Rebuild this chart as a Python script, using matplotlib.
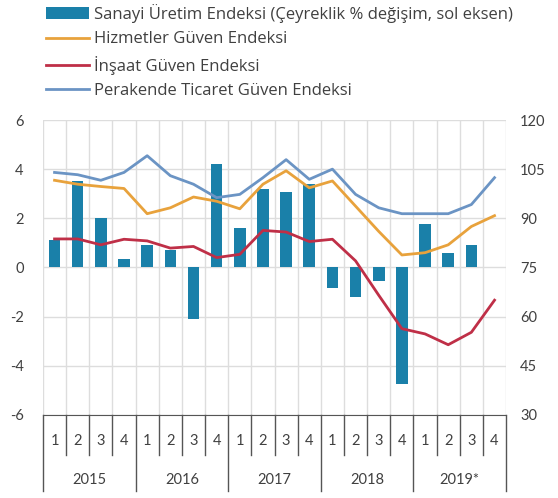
import numpy as np

import matplotlib
matplotlib.use('Agg')
import matplotlib.pyplot as plt
import matplotlib.transforms as mtransforms

plt.rcParams['font.family'] = ['Lato', 'DejaVu Sans']
plt.rcParams['axes.unicode_minus'] = False

quarters = ["1", "2", "3", "4"] * 5
years = ["2015", "2016", "2017", "2018", "2019*"]

# Sanayi Uretim Endeksi, quarterly % change (left axis); no value for 2019Q4
sanayi = [1.1, 3.5, 2.0, 0.35, 0.9, 0.7, -2.1, 4.2, 1.6, 3.2,
          3.05, 3.4, -0.85, -1.2, -0.55, -4.75, 1.75, 0.6, 0.9, np.nan]
# confidence indices (right axis)
hizmetler = [101.6, 100.4, 99.7, 99.1, 91.4, 93.2, 96.5, 95.2, 92.9, 100.4,
             104.5, 99.3, 101.4, 93.7, 86.0, 78.8, 79.5, 81.9, 87.5, 90.8]
insaat = [83.7, 83.7, 81.9, 83.6, 83.1, 80.9, 81.4, 78.0, 79.0, 86.3,
          85.8, 82.9, 83.6, 77.0, 66.5, 56.3, 54.7, 51.4, 55.2, 65.0]
perakende = [104.0, 103.3, 101.6, 104.0, 109.1, 103.0, 100.4, 96.3, 97.3, 102.4,
             107.9, 101.9, 105.0, 97.3, 93.2, 91.4, 91.4, 91.4, 94.2, 102.4]

labels = ["Sanayi Üretim Endeksi (Çeyreklik % değişim, sol eksen)",
          "Hizmetler Güven Endeksi",
          "İnşaat Güven Endeksi",
          "Perakende Ticaret Güven Endeksi"]

c_bar = "#1a80a9"
c_hiz = "#e8a23c"
c_ins = "#bf2f47"
c_per = "#6b94c4"
txt = "#404040"

fig = plt.figure(figsize=(5.58, 4.98), dpi=100)
ax = fig.add_axes([0.077, 0.167, 0.83, 0.592])
x = np.arange(len(quarters))

b = ax.bar(x, sanayi, width=0.5, color=c_bar, zorder=2, label=labels[0])
ax.set_xlim(-0.5, len(x) - 0.5)
ax.set_ylim(-6, 6)
ax.set_yticks(np.arange(-6, 7, 2))
ax.set_xticks(x)
ax.set_xticklabels(quarters)
ax.set_xticks(np.arange(-0.5, len(x), 1), minor=True)
ax.tick_params(axis='x', which='both', length=0, pad=14, labelsize=10.5, colors=txt)
ax.tick_params(axis='y', length=0, pad=14, labelsize=10.5, colors=txt)
ax.grid(True, which='minor', axis='x', color='#dddddd', lw=1, zorder=0)
ax.grid(True, which='major', axis='y', color='#dddddd', lw=1, zorder=0)
for s in ['top', 'left', 'right']:
    ax.spines[s].set_visible(False)
ax.spines['bottom'].set_color('#555555')

ax2 = ax.twinx()
l1, = ax2.plot(x, hizmetler, color=c_hiz, lw=2, label=labels[1])
l2, = ax2.plot(x, insaat, color=c_ins, lw=2, label=labels[2])
l3, = ax2.plot(x, perakende, color=c_per, lw=2, label=labels[3])
ax2.set_ylim(30, 120)
ax2.set_yticks(np.arange(30, 121, 15))
ax2.tick_params(axis='y', length=0, pad=10, labelsize=10.5, colors=txt)
for s in ['top', 'left', 'right', 'bottom']:
    ax2.spines[s].set_visible(False)

# category separators below the axis
trans = mtransforms.blended_transform_factory(ax.transData, ax.transAxes)
for i in range(len(x) + 1):
    low = -0.26 if i % 4 == 0 else -0.135
    ax.plot([i - 0.5, i - 0.5], [0, low], transform=trans, color='#555555',
            lw=1, clip_on=False)
for j, yr in enumerate(years):
    ax.text(j * 4 + 1.5, -0.22, yr, transform=trans, ha='center', va='center',
            fontsize=10.5, color=txt)

fig.legend([b, l1, l2, l3], labels, loc='upper left', bbox_to_anchor=(0.055, 1.022),
           frameon=False, handlelength=2.6, labelspacing=0.5,
           handletextpad=0.3, labelcolor=txt,
           prop={'family': ['Open Sans', 'DejaVu Sans'], 'size': 12.0})

plt.savefig("out.png", format="png")
